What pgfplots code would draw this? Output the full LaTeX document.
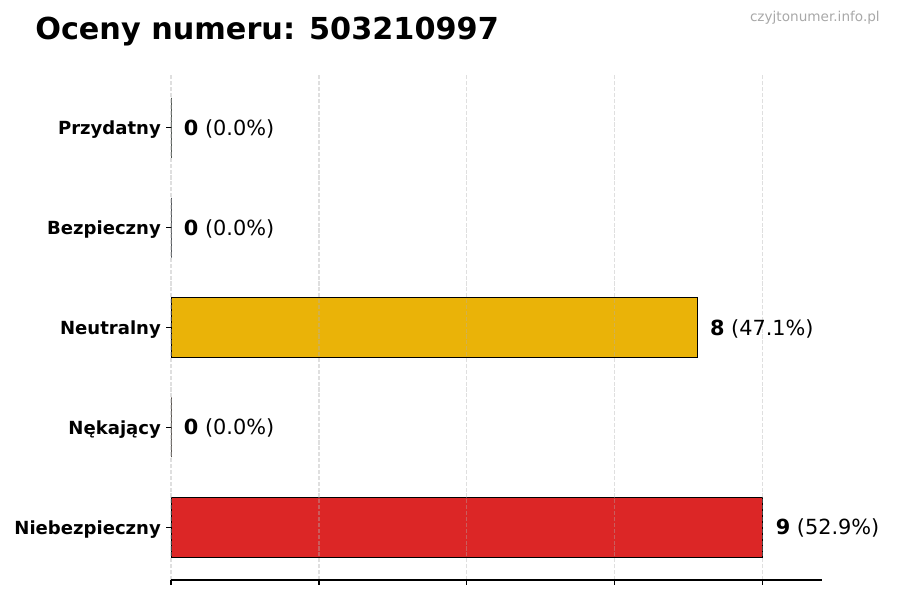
\documentclass[border=0pt]{standalone}
\usepackage{fontspec}
\setmainfont{DejaVu Sans}
\usepackage{pgfplots}
\pgfplotsset{compat=1.18}

\definecolor{przyd}{HTML}{22C55E}
\definecolor{bezp}{HTML}{3B82F6}
\definecolor{neutr}{HTML}{EAB308}
\definecolor{nekaj}{HTML}{F97316}
\definecolor{niebez}{HTML}{DC2626}
\definecolor{gridc}{HTML}{B0B0B0}
\definecolor{wmark}{HTML}{A8A8A8}

\begin{document}
\begin{tikzpicture}
% 1px = 0.72pt, picture 900x600 px
\path[use as bounding box] (0,0) rectangle (648pt,432pt);

\node[anchor=base west, inner sep=0pt, font=\fontsize{21.8pt}{26pt}\selectfont\bfseries]
  at (25.2pt,403.6pt) {Oceny numeru: 503210997};
\node[anchor=base east, inner sep=0pt, text=wmark, font=\fontsize{9.8pt}{12pt}\selectfont]
  at (633.6pt,416.2pt) {czyjtonumer.info.pl};

\begin{axis}[
  at={(123.12pt,14.4pt)}, anchor=south west,
  scale only axis,
  width=468.72pt, height=363.6pt,
  xbar, bar shift=0pt, bar width=0.6,
  xmin=0, xmax=9.9,
  ymin=-0.53, ymax=4.53,
  xtick={0,2.25,4.5,6.75,9},
  xticklabels={},
  ytick={0,1,2,3,4},
  yticklabels={Niebezpieczny,Nękający,Neutralny,Bezpieczny,Przydatny},
  yticklabel style={font=\fontsize{13pt}{15pt}\selectfont\bfseries, inner sep=0pt, xshift=-3.6pt, yshift=-1.5pt},
  axis x line*=bottom,
  axis y line*=left,
  y axis line style={draw=none},
  x axis line style={line width=0.8pt, -},
  tick align=outside,
  major tick length=3.5pt,
  every tick/.style={black, line width=0.8pt},
  xmajorgrids=true,
  grid style={gridc, dashed, line width=0.8pt, dash pattern=on 2.96pt off 1.28pt, opacity=0.4},
  axis on top,
  every node near coord/.append style={anchor=west, inner sep=0pt, xshift=9pt, yshift=-0.8pt,
    font=\fontsize{15pt}{18pt}\selectfont, text=black},
  clip=false,
]
\addplot[draw=black, line width=0.7pt, fill=niebez, nodes near coords={\textbf{9} (52.9\%)}]
  coordinates {(9,0)};
\addplot[draw=black, line width=0.7pt, fill=nekaj, nodes near coords={\textbf{0} (0.0\%)}]
  coordinates {(0,1)};
\addplot[draw=black, line width=0.7pt, fill=neutr, nodes near coords={\textbf{8} (47.1\%)}]
  coordinates {(8,2)};
\addplot[draw=black, line width=0.7pt, fill=bezp, nodes near coords={\textbf{0} (0.0\%)}]
  coordinates {(0,3)};
\addplot[draw=black, line width=0.7pt, fill=przyd, nodes near coords={\textbf{0} (0.0\%)}]
  coordinates {(0,4)};
\end{axis}
\end{tikzpicture}
\end{document}
